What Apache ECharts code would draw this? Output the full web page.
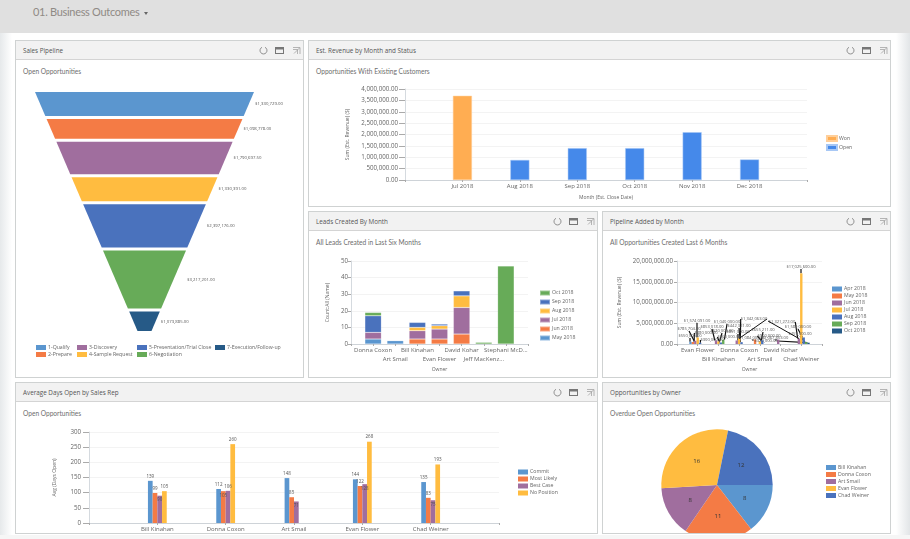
<!DOCTYPE html>
<html lang="en">
<head>
<meta charset="UTF-8">
<title>01. Business Outcomes</title>
<style>
  *{margin:0;padding:0;box-sizing:border-box}
  html{width:910px;height:539px;overflow:hidden;background:#fff}
  body{width:910px;height:539px;overflow:hidden;background:#fff;font-family:'Open Sans',sans-serif;filter:blur(.35px)}
  #top{position:absolute;left:0;top:0;width:910px;height:33px;background:#e0e0e0;color:#8f8a85;font-family:Lato,sans-serif;font-size:11px;letter-spacing:-.3px;line-height:24px;padding-left:33px}
  #top i{display:inline-block;margin-left:5px;vertical-align:middle;border:2.5px solid transparent;border-top:3px solid #666;border-bottom:0}
  #sideL{position:absolute;left:0;top:33px;width:12px;height:506px;background:linear-gradient(to right,#e6e9eb,#fff)}
  #sideR{position:absolute;left:896px;top:33px;width:14px;height:506px;background:linear-gradient(to right,#fff,#e2e5e7)}
  #foot{position:absolute;left:0;top:535px;width:910px;height:4px;background:#f6f6f6}
  .panel{position:absolute;background:#fff;border:1px solid #cfd2d2;overflow:hidden}
  .head{position:absolute;left:0;top:0;right:0;height:19px;background:#f2f2f2;border-bottom:1px solid #d4d4d4;color:#555;font-size:6.3px;line-height:19px;padding-left:7px}
  .sub{position:absolute;left:7px;top:26px;color:#6e6e6e;font-family:Lato,sans-serif;font-size:6.6px;line-height:9px}
  .chart{position:absolute;left:-1px;top:-1px}
  .ico{position:absolute;top:5px;width:9px;height:9px}
</style>
</head>
<body>
<div id="top">01. Business Outcomes<i></i></div>
<div id="sideL"></div>
<div id="sideR"></div>
<div id="foot"></div>

<script src="https://cdn.jsdelivr.net/npm/echarts@6/dist/echarts.min.js"></script>
<script>
// sales pipeline
var stageNames = ['1-Qualify', '2-Prepare', '3-Discovery', '4-Sample Request', '5-Presentation/Trial Close', '6-Negotiation', '7-Execution/Follow-up']
var stageValues = [1330729, 1098778, 1790697.5, 1330391, 2397176, 3217201, 1073885]

// est. revenue
var revenueMonths = ['', 'Jul 2018', 'Aug 2018', 'Sep 2018', 'Oct 2018', 'Nov 2018', 'Dec 2018', '']
var revenueWon = [null, 3700000, null, null, null, null, null, null]
var revenueOpen = [null, null, 880000, 1400000, 1400000, 2100000, 900000, null]

// leads
var leadOwners = ['', 'Donna Coxon', 'Art Smail', 'Bill Kinahan', 'Evan Flower', 'David Kohar', 'Jeff MacKenz...', 'Stephani McD...', '']
var leadsMay = [null, 3, 2, null, null, null, null, null, null]
var leadsJun = [null, null, null, 3, 3, 6, null, null, null]
var leadsJul = [null, 4, null, 5, 6, 16, null, null, null]
var leadsAug = [null, null, null, 2, 2, 7, null, null, null]
var leadsSep = [null, 10, null, 3, 1, 3, null, null, null]
var leadsOct = [null, 2, null, null, null, null, 1, 47, null]

// pipeline
var pipeOwners = ['', 'Evan Flower', 'Bill Kinahan', 'Donna Coxon', 'Art Smail', 'David Kohar', 'Chad Weiner', '']
var pipeApr = [null, 550000, null, null, null, null, null, null]
var pipeMay = [null, 480000, null, null, 1084000, null, null, null]
var pipeJun = [null, 785704, 853018, 851000, null, 1067853, 1321272, null]
var pipeJul = [null, 1574091, 620000, 1342063, 655211, null, 17025600, null]
var pipeAug = [null, 300000, 360000, 442321, 900000, null, 1580000, null]
var pipeSep = [null, null, 1040000, null, null, null, 459000, null]
var pipeOct = [null, null, null, null, null, null, 320000, null]

// avg days
var repNames = ['', 'Bill Kinahan', 'Donna Coxon', 'Art Smail', 'Evan Flower', 'Chad Weiner', '']
var daysCommit = [null, 139, 112, 148, 144, 135, null]
var daysLikely = [null, 99, 105, 85, 122, 83, null]
var daysBest = [null, 90, 106, 71, 128, 75, null]
var daysNoPos = [null, 105, 260, null, 268, 193, null]

// opportunities by owner
var ownerNames = ['Bill Kinahan', 'Donna Coxon', 'Art Smail', 'Evan Flower', 'Chad Weiner']
var ownerCounts = [8, 11, 8, 16, 12]

var palette = ['#5b96cf', '#f47b45', '#a06e9e', '#ffbc40', '#4a72bd', '#67ab58', '#265a87']
var font = "'Open Sans', sans-serif"
var txt = '#666'

function panel(title, sub, x, y, w, h) {
  var p = document.createElement('div')
  p.className = 'panel'
  p.style.cssText = 'left:' + x + 'px;top:' + y + 'px;width:' + w + 'px;height:' + h + 'px'
  var c = '#777'
  p.innerHTML = '<div class="head">' + title + '</div><div class="sub">' + sub + '</div><div class="chart" style="width:' + w + 'px;height:' + h + 'px"></div>'
    + '<svg class="ico" style="left:' + (w - 46) + 'px" viewBox="0 0 9 9"><path d="M3 1.3A3.5 3.5 0 1 0 6 1.3" fill="none" stroke="' + c + '" stroke-width=".8"/></svg>'
    + '<svg class="ico" style="left:' + (w - 30) + 'px" viewBox="0 0 9 9"><rect x=".5" y="1.5" width="8" height="6" fill="none" stroke="' + c + '"/><rect x=".5" y="1.5" width="8" height="2" fill="' + c + '"/></svg>'
    + '<svg class="ico" style="left:' + (w - 13) + 'px" viewBox="0 0 9 9"><path d="M1 1.5H8V8M7.5 2L2 7.5M1 3.5H5.5V8" fill="none" stroke="#999" stroke-width=".7"/></svg>'
  document.body.appendChild(p)
  return echarts.init(p.querySelector('.chart'))
}

function money(v) {
  return '$' + v.toLocaleString('en-US', {minimumFractionDigits: 2, maximumFractionDigits: 2})
}
function plain(v) {
  return v.toLocaleString('en-US', {minimumFractionDigits: 2, maximumFractionDigits: 2})
}
function legend(extra) {
  var l = {itemWidth: 10, itemHeight: 5, itemGap: 2, padding: 0, textStyle: {fontSize: 5.2, color: txt, fontFamily: font, padding: [0, 0, 0, -3]}, icon: 'rect'}
  for (var k in extra) l[k] = extra[k]
  return l
}
function valueAxis(name, gap, max, step, margin, fmt) {
  return {
    type: 'value', min: 0, max: max, interval: step, name: name, nameLocation: 'middle', nameGap: gap,
    nameTextStyle: {fontSize: 5, color: txt, fontFamily: font},
    axisLine: {show: true, lineStyle: {color: '#d5dadf'}},
    axisTick: {show: true, length: margin > 5 ? 6 : 3, lineStyle: {color: '#aaa'}},
    axisLabel: {fontSize: 6.2, color: txt, margin: margin, fontFamily: font, formatter: fmt},
    splitLine: {lineStyle: {color: '#f3f3f3'}}
  }
}
function catAxis(cats, name, gap, stagger) {
  return {
    type: 'category', data: cats, boundaryGap: false, name: name, nameLocation: 'middle', nameGap: gap,
    nameTextStyle: {fontSize: 5, color: txt, fontFamily: font},
    axisLine: {lineStyle: {color: '#ced3d8'}},
    axisTick: {length: 2, lineStyle: {color: '#aaa'}},
    axisLabel: {
      interval: 0, fontSize: 6, color: txt, margin: 1.5, lineHeight: 9, fontFamily: font, hideOverlap: false,
      formatter: function (v, i) { return stagger && i % 2 === 0 ? '\n' + v : v }
    }
  }
}

// Sales Pipeline: height of each slice follows the value, so funnel series doesn't fit
var salesChart = panel('Sales Pipeline', 'Open Opportunities', 15, 40, 289, 338)
var stageTotal = stageValues.reduce(function (a, b) { return a + b }, 0)
var stageGap = stageTotal * 3 / 221
var stageEnd = stageTotal + stageGap * 6
var tipWidth = 0.064
function halfWidth(c) { return 1 - (1 - tipWidth) * c / stageEnd }
var cum = 0
var stageSeries = stageNames.map(function (name, i) {
  var from = cum
  cum += stageValues[i]
  var row = [from, cum, stageValues[i]]
  cum += stageGap
  return {
    type: 'custom', name: name, data: [row], itemStyle: {color: palette[i]}, silent: true,
    renderItem: function (params, api) {
      var a = api.value(0), b = api.value(1)
      var p1 = api.coord([-halfWidth(a), a]), p2 = api.coord([halfWidth(a), a])
      var p3 = api.coord([halfWidth(b), b]), p4 = api.coord([-halfWidth(b), b])
      return {
        type: 'group',
        children: [
          {type: 'polygon', shape: {points: [p1, p2, p3, p4]}, style: {fill: palette[i]}},
          {type: 'text', style: {text: money(api.value(2)), x: p2[0] + 1, y: (p2[1] + p3[1]) / 2, fontSize: 4.3, fill: '#555', fontFamily: font, verticalAlign: 'middle'}}
        ]
      }
    }
  }
})
salesChart.setOption({
  animation: false,
  textStyle: {fontFamily: font},
  grid: {left: 20, top: 52, width: 219, height: 239},
  xAxis: {type: 'value', min: -1, max: 1, show: false},
  yAxis: {type: 'value', min: 0, max: stageEnd, inverse: true, show: false},
  legend: [
    legend({orient: 'vertical', left: 21, top: 305, data: stageNames.slice(0, 2)}),
    legend({orient: 'vertical', left: 62, top: 305, data: stageNames.slice(2, 4)}),
    legend({orient: 'vertical', left: 122, top: 305, data: stageNames.slice(4, 6)}),
    legend({orient: 'vertical', left: 200, top: 305, data: stageNames.slice(6)})
  ],
  series: stageSeries
})

// Est. Revenue
var revChart = panel('Est. Revenue by Month and Status', 'Opportunities With Existing Customers', 308, 40, 583, 167)
revChart.setOption({
  animation: false,
  grid: {left: 97, top: 49, width: 402, height: 91},
  legend: legend({orient: 'vertical', left: 518, top: 95, data: ['Won', 'Open']}),
  xAxis: catAxis(revenueMonths, 'Month (Est. Close Date)', 15, false),
  yAxis: valueAxis('Sum (Est. Revenue) ($)', 55, 4000000, 500000, 7, plain),
  series: [
    {type: 'bar', name: 'Won', stack: 'r', barWidth: 19, data: revenueWon, itemStyle: {color: '#ffad52', borderColor: '#ffcf9a', borderWidth: 0.5}},
    {type: 'bar', name: 'Open', stack: 'r', barWidth: 19, data: revenueOpen, itemStyle: {color: '#4589ea', borderColor: '#a8c8f5', borderWidth: 0.5}}
  ]
})

// Leads
var leadsChart = panel('Leads Created By Month', 'All Leads Created in Last Six Months', 308, 211, 290, 167)
var leadMonths = ['May 2018', 'Jun 2018', 'Jul 2018', 'Aug 2018', 'Sep 2018', 'Oct 2018']
var leadRows = [leadsMay, leadsJun, leadsJul, leadsAug, leadsSep, leadsOct]
var leadColors = [palette[0], palette[1], palette[2], palette[3], palette[4], palette[5]]
leadsChart.setOption({
  animation: false,
  grid: {left: 43, top: 50, width: 177, height: 83},
  legend: legend({orient: 'vertical', left: 231, top: 78.5, data: leadMonths.slice().reverse()}),
  xAxis: catAxis(leadOwners, 'Owner', 23, true),
  yAxis: valueAxis('Count:All (Name)', 20, 50, 10, 3),
  series: leadMonths.map(function (m, i) {
    return {type: 'bar', name: m, stack: 'l', barWidth: 16.5, data: leadRows[i], itemStyle: {color: leadColors[i], borderColor: 'rgba(255,255,255,.35)', borderWidth: 0.5}}
  })
})

// Pipeline
var pipeChart = panel('Pipeline Added by Month', 'All Opportunities Created Last 6 Months', 602, 211, 289, 167)
var pipeMonths = ['Apr 2018', 'May 2018', 'Jun 2018', 'Jul 2018', 'Aug 2018', 'Sep 2018', 'Oct 2018']
var pipeRows = [pipeApr, pipeMay, pipeJun, pipeJul, pipeAug, pipeSep, pipeOct]
// where the crowded data labels got pushed to, page px
var pipeLabelSpots = {
  '0|1': [690, 336], '1|1': [706, 333], '2|1': [689, 329], '3|1': [697, 321], '4|1': [712, 340],
  '2|2': [712, 327], '3|2': [722, 331], '4|2': [729, 337], '5|2': [727, 322],
  '2|3': [738, 332], '3|3': [754, 319], '4|3': [739, 326],
  '1|4': [752, 338], '3|4': [763, 330], '4|4': [769, 336],
  '2|5': [775, 338],
  '2|6': [782, 322], '3|6': [801, 267], '4|6': [798, 327], '5|6': [800, 334], '6|6': [766, 341]
}
// the two long leaders run to the far end of their label, page px
var pipeLongLeaders = {
  3: [['Donna Coxon', 1342063, 767, 319]],
  2: [['Chad Weiner', 1321272, 768, 321]]
}
pipeChart.setOption({
  animation: false,
  grid: {left: 75, top: 50, width: 145, height: 83},
  legend: legend({orient: 'vertical', left: 230, top: 75.5, data: pipeMonths}),
  xAxis: catAxis(pipeOwners, 'Owner', 23, true),
  yAxis: valueAxis('Sum (Est. Revenue) ($)', 52, 20000000, 5000000, 4, plain),
  series: pipeMonths.map(function (m, i) {
    return {
      type: 'bar', name: m, barWidth: 2.4, barGap: 0, data: pipeRows[i], itemStyle: {color: palette[i]},
      label: {show: true, position: 'top', fontSize: 4.1, color: '#555', fontFamily: font, align: 'center', verticalAlign: 'middle', formatter: function (p) { return money(p.value) }},
      labelLine: {show: true, lineStyle: {color: '#111', width: 1.2}},
      labelLayout: function (p) {
        var spot = pipeLabelSpots[i + '|' + p.dataIndex]
        if (!spot) return {}
        return {x: spot[0] - 602, y: spot[1] - 211, align: 'center', verticalAlign: 'middle'}
      },
      markLine: {
        silent: true, symbol: 'none', label: {show: false}, lineStyle: {color: '#111', width: 1, type: 'solid'},
        data: (pipeLongLeaders[i] || []).map(function (l) {
          return [{coord: [l[0], l[1]]}, {x: l[2] - 602, y: l[3] - 211}]
        })
      }
    }
  })
})

// Average days
var daysChart = panel('Average Days Open by Sales Rep', 'Open Opportunities', 15, 382, 583, 152)
var dayNames = ['Commit', 'Most Likely', 'Best Case', 'No Position']
var dayRows = [daysCommit, daysLikely, daysBest, daysNoPos]
// labels that landed inside the bar, [series, rep]
var dayInside = ['1|2', '2|1', '2|3', '2|4', '2|5']
daysChart.setOption({
  animation: false,
  grid: {left: 74, top: 50, width: 410, height: 91},
  legend: legend({orient: 'vertical', left: 503, top: 87.5, data: dayNames}),
  xAxis: catAxis(repNames, '', 0, false),
  yAxis: valueAxis('Avg (Days Open)', 32, 300, 50, 8),
  series: dayNames.map(function (n, i) {
    return {
      type: 'bar', name: n, barWidth: 4.7, barGap: 0, itemStyle: {color: palette[i]},
      data: dayRows[i].map(function (v, j) {
        if (v === null) return null
        var item = {value: v}
        if (dayInside.indexOf(i + '|' + j) > -1) item.label = {position: 'insideTop', distance: 2}
        return item
      }),
      label: {show: true, position: 'top', distance: 2, fontSize: 4.5, color: '#555', fontFamily: font}
    }
  })
})

// Opportunities by owner
var ownerChart = panel('Opportunities by Owner', 'Overdue Open Opportunities', 602, 382, 289, 152)
ownerChart.setOption({
  animation: false,
  legend: legend({orient: 'vertical', left: 224, top: 83, data: ownerNames}),
  series: [{
    type: 'pie', center: [115, 103], radius: 55.7, startAngle: 0, silent: true,
    color: [palette[0], palette[1], palette[2], palette[3], palette[4]],
    data: ownerNames.map(function (n, i) { return {name: n, value: ownerCounts[i]} }),
    label: {show: true, position: 'inside', formatter: '{c}', fontSize: 6, color: '#333', fontFamily: font},
    labelLine: {show: false}
  }]
})
</script>
</body>
</html>
